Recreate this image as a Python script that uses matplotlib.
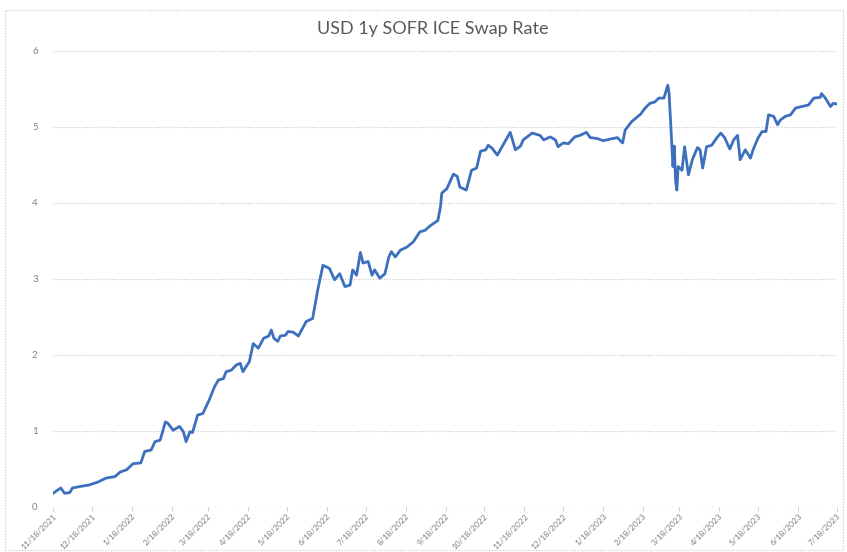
import numpy as np
import pandas as pd
import matplotlib
matplotlib.use("Agg")
import matplotlib.pyplot as plt
import matplotlib.patches as patches

plt.rcParams['font.family'] = ['Lato', 'DejaVu Sans']

# data: days after 11/18/2021 and the swap rate (%)

day_offset = [0, 6, 9, 13, 15, 21, 28, 35, 41, 48, 52, 57, 62, 68, 71, 76, 79, 83, 87, 89,
              93, 98, 101, 103, 106, 108, 112, 116, 121, 125, 128, 132, 134, 138, 142, 145, 147, 150, 152, 155,
              159, 163, 167, 169, 171, 174, 176, 180, 182, 186, 190, 196, 201, 205, 209, 214, 218, 222, 226, 230,
              232, 235, 238, 240, 244, 247, 249, 253, 257, 260, 262, 265, 269, 274, 279, 284, 288, 292, 298, 300,
              301, 305, 310, 313, 315, 320, 324, 328, 331, 335, 337, 340, 344, 350, 354, 358, 362, 364, 371, 377,
              380, 385, 389, 391, 395, 399, 404, 408, 413, 416, 421, 426, 431, 437, 441, 443, 448, 455, 458, 462,
              466, 469, 473, 476, 477, 479, 480, 481, 482, 483, 484, 487, 489, 492, 495, 499, 501, 503, 506, 510,
              514, 517, 520, 524, 527, 530, 532, 536, 540, 542, 546, 549, 552, 554, 558, 561, 563, 567, 571, 575,
              580, 585, 589, 594, 595, 598, 602, 604, 608]
swap_rate = [0.18, 0.25, 0.18, 0.19, 0.25, 0.27, 0.29, 0.33, 0.38, 0.40, 0.46, 0.49, 0.57, 0.58, 0.73, 0.75, 0.86, 0.88, 1.12, 1.10,
             1.01, 1.06, 0.99, 0.86, 0.99, 0.98, 1.21, 1.23, 1.41, 1.58, 1.67, 1.69, 1.78, 1.80, 1.87, 1.89, 1.78, 1.86, 1.91, 2.15,
             2.09, 2.22, 2.25, 2.33, 2.22, 2.18, 2.25, 2.26, 2.31, 2.30, 2.25, 2.44, 2.48, 2.86, 3.18, 3.14, 2.99, 3.07, 2.90, 2.92,
             3.12, 3.05, 3.35, 3.21, 3.23, 3.05, 3.12, 3.01, 3.07, 3.29, 3.36, 3.29, 3.38, 3.42, 3.49, 3.62, 3.64, 3.70, 3.77, 3.95,
             4.13, 4.19, 4.38, 4.35, 4.21, 4.17, 4.43, 4.46, 4.68, 4.70, 4.76, 4.72, 4.63, 4.81, 4.93, 4.70, 4.75, 4.83, 4.92, 4.89,
             4.83, 4.87, 4.83, 4.74, 4.79, 4.78, 4.87, 4.89, 4.93, 4.86, 4.85, 4.82, 4.84, 4.86, 4.79, 4.96, 5.07, 5.17, 5.24, 5.31,
             5.33, 5.38, 5.38, 5.55, 5.44, 4.81, 4.48, 4.75, 4.30, 4.17, 4.48, 4.43, 4.74, 4.37, 4.57, 4.73, 4.70, 4.46, 4.74, 4.76,
             4.86, 4.92, 4.86, 4.71, 4.83, 4.89, 4.57, 4.70, 4.59, 4.70, 4.86, 4.94, 4.94, 5.16, 5.14, 5.03, 5.09, 5.14, 5.16, 5.25,
             5.27, 5.29, 5.38, 5.39, 5.44, 5.38, 5.27, 5.31, 5.30]

start = pd.Timestamp("2021-11-18")
dates = start + pd.to_timedelta(day_offset, unit="D")
tick_dates = pd.date_range(start, "2023-07-18", freq=pd.DateOffset(months=1))
tick_labels = [f"{d.month}/{d.day}/{d.year}" for d in tick_dates]

W, H = 847, 552
fig = plt.figure(figsize=(W / 100, H / 100), dpi=100)
ax = fig.add_axes([53 / W, 1 - 507 / H, (837 - 53) / W, (507 - 51) / H])

ax.plot(dates, swap_rate, color="#3d6fbf", lw=2, solid_joinstyle="round")

ax.set_ylim(0, 6)
ax.set_yticks(range(7))
ax.set_xlim(start, pd.Timestamp("2023-07-18"))
ax.set_xticks(tick_dates)
ax.set_xticklabels(tick_labels, rotation=45, ha="right", va="top", rotation_mode="anchor")

for s in ax.spines.values():
    s.set_visible(False)
ax.grid(axis="y", color="#c8c8c8", lw=0.8, ls=(0, (1, 1.5)))
ax.tick_params(axis="y", length=0, pad=11, labelsize=7, labelcolor="#808080")
ax.tick_params(axis="x", length=3, width=0.6, color="#c8c8c8", pad=1, labelsize=6, labelcolor="#808080")

fig.text(433 / W, 1 - 29 / H, "USD 1y SOFR ICE Swap Rate", ha="center", va="center",
         fontsize=13, color="#595959")

# dotted frame round the chart
fig.patches.append(patches.Rectangle((5 / W, 1 - 550 / H), 838 / W, 540 / H, transform=fig.transFigure,
                                     fill=False, ec="#c8c8c8", lw=0.8, ls=(0, (1, 1.5))))

fig.savefig("out.png", dpi=100, facecolor="white")
